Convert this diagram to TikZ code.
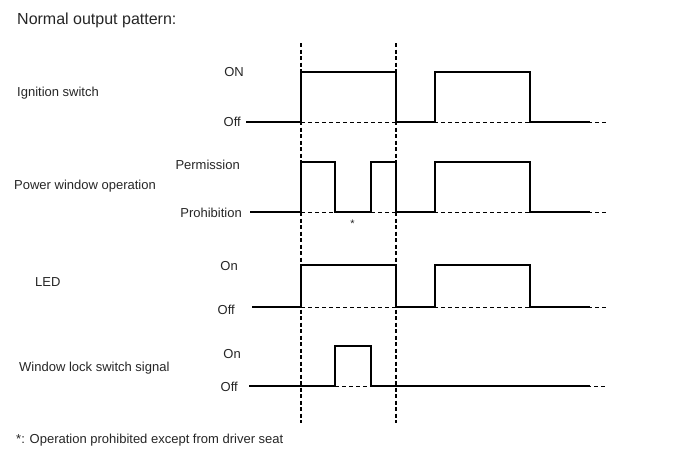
\documentclass[tikz,border=0pt]{standalone}
\usepackage{fontspec}
\setmainfont{Liberation Sans}
\begin{document}
\begin{tikzpicture}[x=1pt,y=-1pt,
  lbl/.style={inner sep=0pt, text=black!85, font=\fontsize{13}{15}\selectfont},
  wave/.style={line width=1.8pt, line join=miter},
  base/.style={line width=1pt, dash pattern=on 4pt off 3pt},
  marker/.style={line width=1.6pt, dash pattern=on 4pt off 2.5pt}]
\useasboundingbox (0,0) rectangle (688,463);
\fill[white] (0,0) rectangle (688,463);
% title and labels
\node[lbl, anchor=base west, font=\fontsize{16}{18}\selectfont] (title) at (17,24) {Normal output pattern:};
\node[lbl, anchor=base west] (ign) at (17,96) {Ignition switch};
\node[lbl, anchor=base west] (pwo) at (14,189) {Power window operation};
\node[lbl, anchor=base west] (led) at (35,286.5) {LED};
\node[lbl, anchor=base west] (wls) at (19,371) {Window lock switch signal};
\node[lbl, anchor=base west] (note) at (16,443) {*: Operation prohibited except from driver seat};
% level labels
\node[lbl, anchor=base east] (ignon) at (244,76) {ON};
\node[lbl, anchor=base east] (ignoff) at (241,126) {Off};
\node[lbl, anchor=base east] (perm) at (240,169) {Permission};
\node[lbl, anchor=base east] (proh) at (242,217.5) {Prohibition};
\node[lbl, anchor=base east] (ledon) at (238,270) {On};
\node[lbl, anchor=base east] (ledoff) at (235,314) {Off};
\node[lbl, anchor=base east] (wlon) at (241,358) {On};
\node[lbl, anchor=base east] (wloff) at (238,391.5) {Off};
\node[lbl, font=\fontsize{11}{12}\selectfont] (ast) at (352.5,224) {*};
% dashed baselines
\draw[base] (301,122) -- (606,122);
\draw[base] (301,212) -- (606,212);
\draw[base] (301,307) -- (606,307);
\draw[base] (335,386) -- (606,386);
% time markers
\draw[marker] (301,43) -- (301,423);
\draw[marker] (396,43) -- (396,423);
% waveforms
\draw[wave] (246,122) -- (301,122) -- (301,72) -- (396,72) -- (396,122) -- (435,122) -- (435,72) -- (530,72) -- (530,122) -- (590,122);
\draw[wave] (250,212) -- (301,212) -- (301,162) -- (335,162) -- (335,212) -- (371,212) -- (371,162) -- (396,162) -- (396,212) -- (435,212) -- (435,162) -- (530,162) -- (530,212) -- (590,212);
\draw[wave] (252,307) -- (301,307) -- (301,265) -- (396,265) -- (396,307) -- (435,307) -- (435,265) -- (530,265) -- (530,307) -- (590,307);
\draw[wave] (249,386) -- (335,386) -- (335,346) -- (371,346) -- (371,386) -- (590,386);
\end{tikzpicture}
\end{document}
